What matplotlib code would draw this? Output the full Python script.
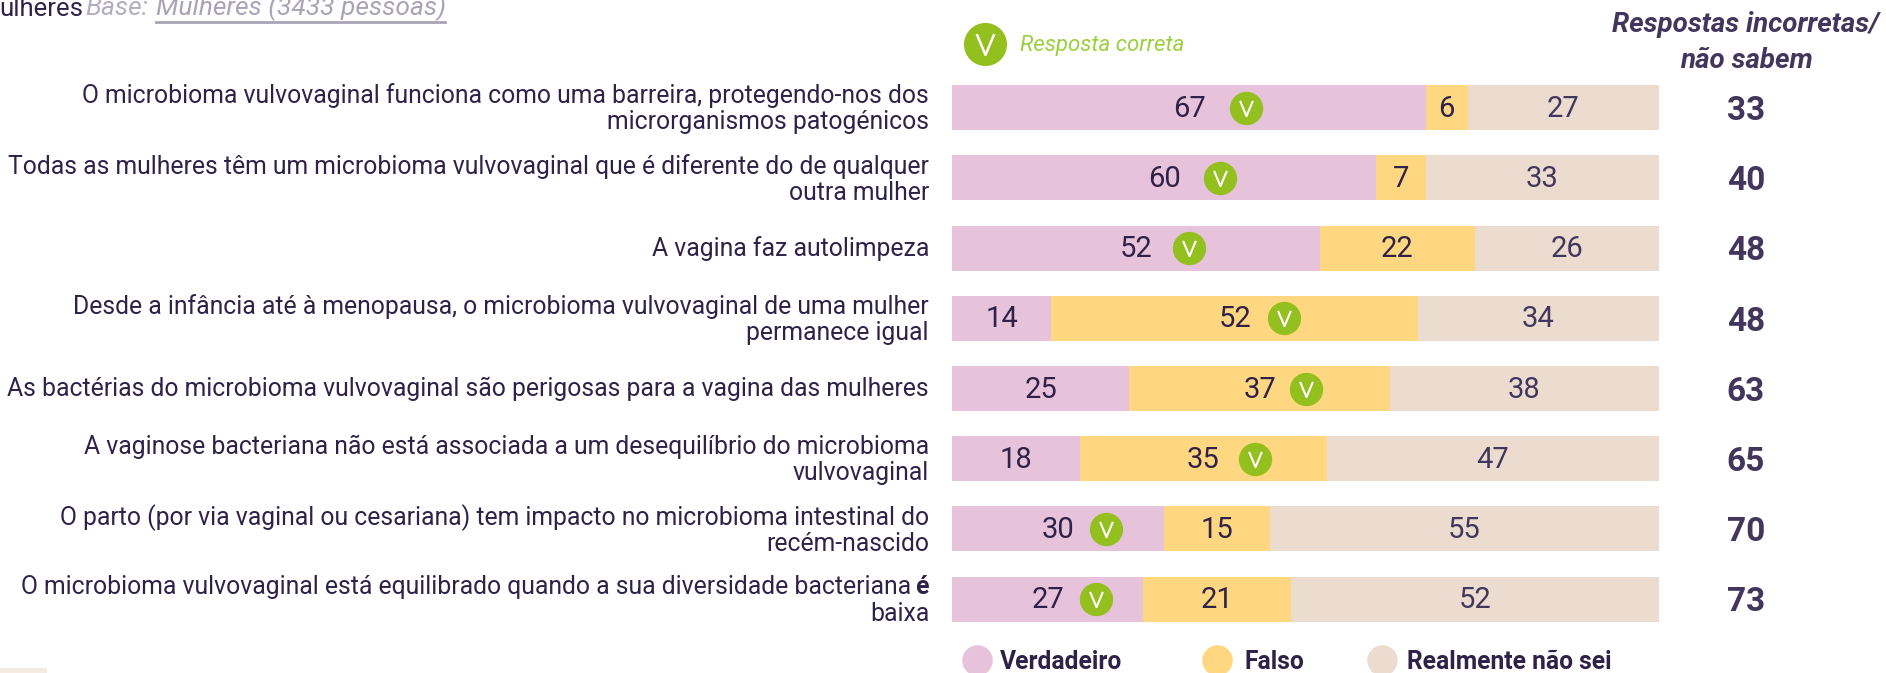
import matplotlib.pyplot as plt
from matplotlib.path import Path

W, H = 1886, 673

# dados
afirmacoes = [
    'O microbioma vulvovaginal funciona como uma barreira, protegendo-nos dos\nmicrorganismos patogénicos',
    'Todas as mulheres têm um microbioma vulvovaginal que é diferente do de qualquer\noutra mulher',
    'A vagina faz autolimpeza',
    'Desde a infância até à menopausa, o microbioma vulvovaginal de uma mulher\npermanece igual',
    'As bactérias do microbioma vulvovaginal são perigosas para a vagina das mulheres',
    'A vaginose bacteriana não está associada a um desequilíbrio do microbioma\nvulvovaginal',
    'O parto (por via vaginal ou cesariana) tem impacto no microbioma intestinal do\nrecém-nascido',
    'O microbioma vulvovaginal está equilibrado quando a sua diversidade bacteriana é\nbaixa',
]
verdadeiro = [67, 60, 52, 14, 25, 18, 30, 27]
falso = [6, 7, 22, 52, 37, 35, 15, 21]
nao_sei = [27, 33, 26, 34, 38, 47, 55, 52]
incorretas = [33, 40, 48, 48, 63, 65, 70, 73]
# 0 = verdadeiro, 1 = falso
correta = [0, 0, 0, 1, 1, 1, 0, 0]

C_V, C_F, C_N = '#e6c3da', '#ffd780', '#ecdcd0'
TXT = '#2f2248'
TXT2 = '#43365c'
GREEN = '#93bf1f'
FONT = 'Roboto'

plt.rcParams['font.family'] = [FONT, 'DejaVu Sans']

fig = plt.figure(figsize=(W / 100, H / 100), dpi=100, facecolor='white')


def fx(x):
    return x / W


def fy(y):
    return 1 - y / H


def ptext(x, y, s, **kw):
    kw.setdefault('color', TXT)
    kw.setdefault('va', 'center')
    return fig.text(fx(x), fy(y), s, **kw)


# eixo das barras: 1 linha = 70.2 px
ax = fig.add_axes([fx(952.5), fy(634.2), 706 / W, 561.6 / H])
ax.set_xlim(0, 100)
ax.set_ylim(7.5, -0.5)
ax.axis('off')

linhas = list(range(len(afirmacoes)))
esq2 = verdadeiro
esq3 = [a + b for a, b in zip(verdadeiro, falso)]
ax.barh(linhas, verdadeiro, height=0.64, color=C_V)
ax.barh(linhas, falso, left=esq2, height=0.64, color=C_F)
ax.barh(linhas, nao_sei, left=esq3, height=0.64, color=C_N)

v_path = Path([(-0.42, 0.5), (0, -0.5), (0.42, 0.5)], [Path.MOVETO, Path.LINETO, Path.LINETO])
# deslocamento do visto em relação ao número (px)
dx_visto = [57, 56, 53, 49, 46, 52, 48, 48]

for i in linhas:
    cy = 107.7 + 70.2 * i
    ptext(ax.transData.transform((verdadeiro[i] / 2, i))[0], cy + 1, str(verdadeiro[i]), ha='center', fontsize=21)
    ptext(ax.transData.transform((esq2[i] + falso[i] / 2, i))[0], cy + 1, str(falso[i]), ha='center', fontsize=21)
    ptext(ax.transData.transform((esq3[i] + nao_sei[i] / 2, i))[0], cy + 1, str(nao_sei[i]), ha='center', fontsize=21, color=TXT2)

    # visto da resposta correta
    centro = verdadeiro[i] / 2 if correta[i] == 0 else verdadeiro[i] + falso[i] / 2
    px_x, px_y = ax.transData.transform((centro, i))
    px_x += dx_visto[i]
    fig.add_artist(plt.Line2D([px_x / W], [px_y / H], marker='o', ms=24, color=GREEN, mew=0))
    fig.add_artist(plt.Line2D([px_x / W], [px_y / H], marker=v_path, ms=11, mfc='none', mec='white', mew=1.5))

    # rótulos, linha a linha
    partes = afirmacoes[i].split('\n')
    y0 = cy - 13.25 * (len(partes) - 1) + (1.5 if len(partes) > 1 else 0.5)
    for k, parte in enumerate(partes):
        xr = 929
        if parte.endswith('bacteriana é'):
            ptext(xr, y0 + 26.5 * k, 'é', ha='right', fontsize=17.85, fontweight='bold')
            parte = parte[:-2]
            xr = 929 - 18
        ptext(xr, y0 + 26.5 * k, parte, ha='right', fontsize=17.85)

    ptext(1746, 111 + 70.2 * i, str(incorretas[i]), ha='center', fontsize=24, fontweight='bold', color=TXT2)

# cabeçalho
ptext(-1, 9, 'ulheres', fontsize=18.5)
ptext(85, 8, 'Base:', fontsize=19, style='italic', color='#b3aebf')
ptext(156, 8, 'Mulheres (3433 pessoas)', fontsize=19, style='italic', color='#a9a3b6')
fig.add_artist(plt.Line2D([fx(156), fx(445)], [fy(22), fy(22)], color='#a9a3b6', lw=2))

fig.add_artist(plt.Line2D([fx(985)], [fy(44)], marker='o', ms=31, color=GREEN, mew=0))
fig.add_artist(plt.Line2D([fx(985)], [fy(44)], marker=v_path, ms=15, mfc='none', mec='white', mew=1.8))
ptext(1020, 45, 'Resposta correta', fontsize=16, style='italic', color='#9ccf3e')

ptext(1746, 24, 'Respostas incorretas/', ha='center', fontsize=20, style='italic', fontweight='bold', color=TXT2)
ptext(1746, 60, 'não sabem', ha='center', fontsize=20, style='italic', fontweight='bold', color=TXT2)

# legenda
for x, c, nome, tx in [(977, C_V, 'Verdadeiro', 1000), (1217, C_F, 'Falso', 1245), (1382, C_N, 'Realmente não sei', 1407)]:
    fig.add_artist(plt.Line2D([fx(x)], [fy(660)], marker='o', ms=22, color=c, mew=0))
    ptext(tx, 662, nome, fontsize=17.7, fontweight='bold')

# resto de um bloco cortado no canto inferior
fig.add_artist(plt.Rectangle((0, 0), fx(47), 5 / H, color='#f6ebe3', lw=0, transform=fig.transFigure))

fig.savefig('out.png', dpi=100)
